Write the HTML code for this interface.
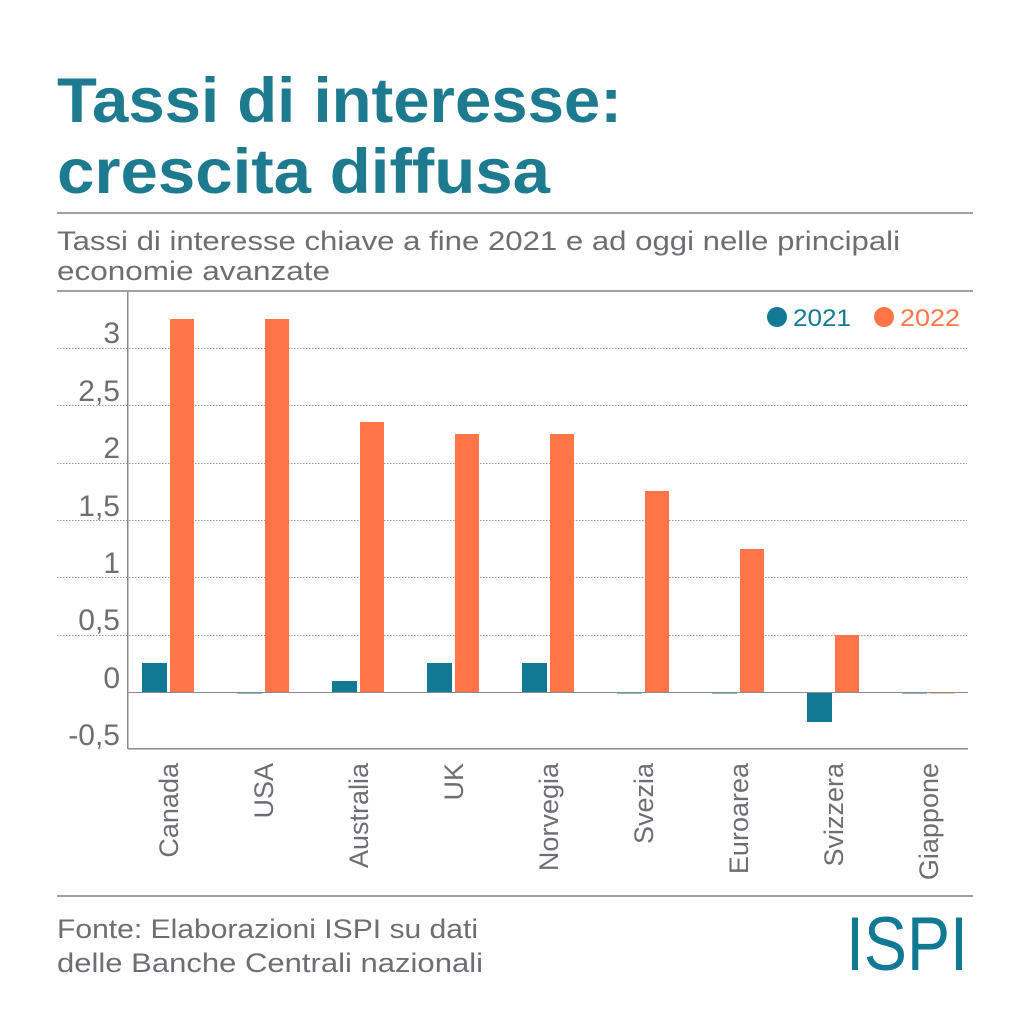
<!DOCTYPE html>
<html><head><meta charset="utf-8"><style>
html,body{margin:0;padding:0;background:#fff;}
svg{display:block;}
</style></head><body>
<svg width="1024" height="1024" viewBox="0 0 1024 1024" xmlns="http://www.w3.org/2000/svg" font-family="Liberation Sans, sans-serif">
<rect width="1024" height="1024" fill="#fff"/>
<text x="57" y="122" font-size="63" font-weight="bold" fill="#1d7a8f" textLength="565" lengthAdjust="spacingAndGlyphs">Tassi di interesse:</text>
<text x="57" y="193" font-size="63" font-weight="bold" fill="#1d7a8f" textLength="493" lengthAdjust="spacingAndGlyphs">crescita diffusa</text>
<rect x="57" y="212" width="916" height="2" fill="#a0a0a5"/>
<text x="57" y="250" font-size="27" fill="#6d6e73" textLength="843" lengthAdjust="spacingAndGlyphs">Tassi di interesse chiave a fine 2021 e ad oggi nelle principali</text>
<text x="57" y="280" font-size="27" fill="#6d6e73" textLength="273" lengthAdjust="spacingAndGlyphs">economie avanzate</text>
<rect x="57" y="290" width="916" height="2" fill="#a0a0a5"/>
<g stroke="#999" stroke-width="1" stroke-dasharray="1.5,1.5">
<line x1="57" x2="967" y1="348.5" y2="348.5"/>
<line x1="57" x2="967" y1="405.5" y2="405.5"/>
<line x1="57" x2="967" y1="463.5" y2="463.5"/>
<line x1="57" x2="967" y1="520.5" y2="520.5"/>
<line x1="57" x2="967" y1="577.5" y2="577.5"/>
<line x1="57" x2="967" y1="635.5" y2="635.5"/>
</g>
<g font-size="30" fill="#6d6e73" text-anchor="end">
<text x="120" y="343">3</text>
<text x="120" y="401">2,5</text>
<text x="120" y="458">2</text>
<text x="120" y="516">1,5</text>
<text x="120" y="573">1</text>
<text x="120" y="630">0,5</text>
<text x="120" y="688">0</text>
<text x="120" y="745">-0,5</text>
</g>
<rect x="127" y="292" width="1.5" height="457" fill="#8a8a8f"/>
<rect x="128" y="748" width="840" height="1.5" fill="#8a8a8f"/>
<g fill="#ff7547">
<rect x="170" y="319" width="24" height="373"/>
<rect x="265" y="319" width="24" height="373"/>
<rect x="360" y="422" width="24" height="270"/>
<rect x="455" y="434" width="24" height="258"/>
<rect x="550" y="434" width="24" height="258"/>
<rect x="645" y="491" width="24" height="201"/>
<rect x="740" y="549" width="24" height="143"/>
<rect x="835" y="635" width="24" height="57"/>
<rect x="930" y="692" width="24" height="1.5"/>
</g>
<g fill="#127995">
<rect x="142" y="663" width="25" height="29"/>
<rect x="237" y="692" width="25" height="1.5"/>
<rect x="332" y="681" width="25" height="11"/>
<rect x="427" y="663" width="25" height="29"/>
<rect x="522" y="663" width="25" height="29"/>
<rect x="617" y="692" width="25" height="1.5"/>
<rect x="712" y="692" width="25" height="1.5"/>
<rect x="807" y="693" width="25" height="29"/>
<rect x="902" y="692" width="25" height="1.5"/>
</g>
<rect x="128" y="692" width="840" height="1" fill="#8a8a8f"/>
<circle cx="777" cy="317" r="10" fill="#127995"/>
<text x="793" y="326" font-size="24" fill="#127995" textLength="58" lengthAdjust="spacingAndGlyphs">2021</text>
<circle cx="884" cy="317" r="10" fill="#ff7547"/>
<text x="900" y="326" font-size="24" fill="#ff7547" textLength="60" lengthAdjust="spacingAndGlyphs">2022</text>
<g font-size="27" fill="#6d6e73" text-anchor="end">
<text transform="translate(178,763) rotate(-90)">Canada</text>
<text transform="translate(273,763) rotate(-90)">USA</text>
<text transform="translate(368,763) rotate(-90)">Australia</text>
<text transform="translate(463,763) rotate(-90)">UK</text>
<text transform="translate(558,763) rotate(-90)">Norvegia</text>
<text transform="translate(653,763) rotate(-90)">Svezia</text>
<text transform="translate(748,763) rotate(-90)">Euroarea</text>
<text transform="translate(843,763) rotate(-90)">Svizzera</text>
<text transform="translate(938,763) rotate(-90)">Giappone</text>
</g>
<rect x="57" y="895" width="916" height="2" fill="#a0a0a5"/>
<text x="57" y="938" font-size="27" fill="#6d6e73" textLength="421" lengthAdjust="spacingAndGlyphs">Fonte: Elaborazioni ISPI su dati</text>
<text x="57" y="972" font-size="27" fill="#6d6e73" textLength="426" lengthAdjust="spacingAndGlyphs">delle Banche Centrali nazionali</text>
<text x="846" y="970" font-size="76" fill="#127995" textLength="122" lengthAdjust="spacingAndGlyphs">ISPI</text>
</svg>
</body></html>
